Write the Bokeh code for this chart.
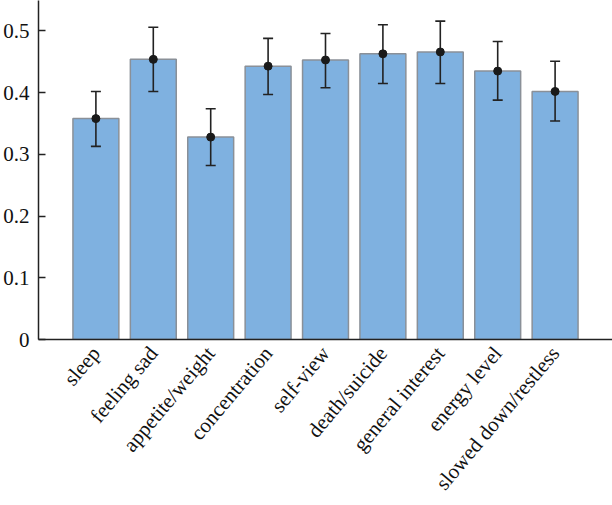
import math
from bokeh.plotting import figure
from bokeh.models import ColumnDataSource, FixedTicker, Range1d
from bokeh.embed import file_html
from bokeh.resources import INLINE

categories = ["sleep", "feeling sad", "appetite/weight", "concentration", "self-view",
              "death/suicide", "general interest", "energy level", "slowed down/restless"]
means = [0.358, 0.454, 0.328, 0.443, 0.453, 0.463, 0.466, 0.435, 0.402]
upper = [0.402, 0.506, 0.374, 0.488, 0.496, 0.510, 0.516, 0.483, 0.451]
lower = [0.313, 0.402, 0.282, 0.397, 0.408, 0.415, 0.415, 0.388, 0.354]
y_ticks = [0, 0.1, 0.2, 0.3, 0.4, 0.5]
y_tick_labels = ["0", "0.1", "0.2", "0.3", "0.4", "0.5"]

xs = list(range(len(categories)))
src = ColumnDataSource(dict(x=xs, top=means, upper=upper, lower=lower))

p = figure(width=612, height=505, output_backend="svg", toolbar_location=None,
           x_range=Range1d(-1, 9), y_range=Range1d(0, 0.5494),
           min_border_left=37, min_border_right=0, min_border_top=0, min_border_bottom=166)
p.outline_line_color = None
p.xgrid.grid_line_color = None
p.ygrid.grid_line_color = None

p.vbar(x="x", top="top", width=0.8, bottom=0, source=src,
       fill_color="#7fb1e0", line_color="#8a9098", line_width=1.5)

err_color = "#222222"
p.segment(x0="x", y0="lower", x1="x", y1="upper", source=src,
          line_color=err_color, line_width=1.6)
p.scatter(x="x", y="upper", source=src, marker="dash", size=10,
          line_color=err_color, line_width=1.6)
p.scatter(x="x", y="lower", source=src, marker="dash", size=10,
          line_color=err_color, line_width=1.6)
p.scatter(x="x", y="top", source=src, size=8, color="#1a1a1a")

p.yaxis.ticker = FixedTicker(ticks=y_ticks)
p.yaxis.major_label_overrides = {t: l for t, l in zip(y_ticks, y_tick_labels)}
p.yaxis.major_tick_in = 7
p.yaxis.major_tick_out = 0
p.yaxis.minor_tick_line_color = None
p.yaxis.major_label_standoff = 9

p.xaxis.ticker = FixedTicker(ticks=xs)
p.xaxis.major_label_overrides = {i: c for i, c in zip(xs, categories)}
p.xaxis.major_tick_in = 0
p.xaxis.major_tick_out = 0
p.xaxis.minor_tick_line_color = None
p.xaxis.major_label_orientation = math.radians(50)
p.xaxis.major_label_standoff = 10

for ax in (p.xaxis, p.yaxis):
    ax.axis_line_color = "#222222"
    ax.axis_line_width = 1.5
    ax.major_tick_line_color = "#222222"
    ax.major_tick_line_width = 1.5
    ax.major_label_text_font = "Liberation Serif"
    ax.major_label_text_font_size = "21px"
    ax.major_label_text_color = "#111111"

open("out.html", "w").write(file_html(p, INLINE))
